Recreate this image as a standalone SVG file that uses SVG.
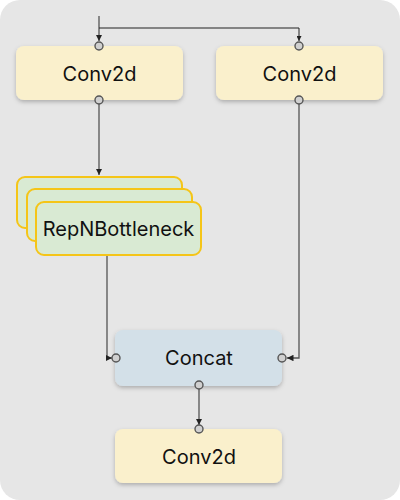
<svg xmlns="http://www.w3.org/2000/svg" width="400" height="500" viewBox="0 0 400 500">
<defs>
<filter id="sh" x="-10%" y="-10%" width="120%" height="140%">
<feDropShadow dx="0" dy="2" stdDeviation="2" flood-color="#000" flood-opacity="0.25"/>
</filter>
<marker id="ar" viewBox="0 0 10 10" refX="10" refY="5" markerWidth="5" markerHeight="5" orient="auto">
<path d="M0,0 L10,5 L0,10 z" fill="#222"/>
</marker>
</defs>
<style>
.conv{fill:#faf0cc;filter:url(#sh)}
.cat{fill:#d3e0e8;filter:url(#sh)}
.rep{fill:#d9ead3;stroke:#f5c518;stroke-width:2}
.lbl{font-family:Inter,"Liberation Sans",sans-serif;font-size:20px;fill:#111;text-anchor:middle;dominant-baseline:central}
.port{fill:#d0d0d0;stroke:#555;stroke-width:1.4}
.ln{fill:none;stroke:#555;stroke-width:1.3}
.lk{fill:none;stroke:#222;stroke-width:1}
</style>
<rect x="0" y="0" width="400" height="500" rx="20" fill="#e6e6e6"/>
<g id="connectors">
<path class="ln" d="M99,16 V41" marker-end="url(#ar)"/>
<path class="lk" d="M99,28 H299 V41" marker-end="url(#ar)"/>
<path class="ln" d="M99,100 V175" marker-end="url(#ar)"/>
<path class="ln" d="M107,255 V358 H112" marker-end="url(#ar)"/>
<path class="ln" d="M299,100 V358 H287" marker-end="url(#ar)"/>
<path class="ln" d="M199,386 V425" marker-end="url(#ar)"/>
</g>
<g id="conv1">
<rect class="conv" x="16" y="46" width="167" height="54" rx="8"/>
<text class="lbl" x="99.5" y="74">Conv2d</text>
<circle class="port" cx="99" cy="46" r="4"/>
<circle class="port" cx="99" cy="100" r="4"/>
</g>
<g id="conv2">
<rect class="conv" x="216" y="46" width="167" height="54" rx="8"/>
<text class="lbl" x="299.5" y="74">Conv2d</text>
<circle class="port" cx="299" cy="46" r="4"/>
<circle class="port" cx="299" cy="100" r="4"/>
</g>
<g id="repn">
<rect class="rep" x="17" y="177" width="165" height="51" rx="8"/>
<rect class="rep" x="27" y="189" width="165" height="52" rx="8"/>
<rect class="rep" x="36" y="202" width="165" height="53" rx="8"/>
<text class="lbl" x="118.5" y="229">RepNBottleneck</text>
</g>
<g id="concat">
<rect class="cat" x="115" y="330" width="167" height="56" rx="8"/>
<text class="lbl" x="199" y="358">Concat</text>
<circle class="port" cx="116" cy="358" r="4"/>
<circle class="port" cx="282" cy="358" r="4"/>
<circle class="port" cx="199" cy="385" r="4"/>
</g>
<g id="conv3">
<rect class="conv" x="115" y="429" width="167" height="54" rx="8"/>
<text class="lbl" x="199" y="457">Conv2d</text>
<circle class="port" cx="199" cy="429" r="4"/>
</g>
</svg>
